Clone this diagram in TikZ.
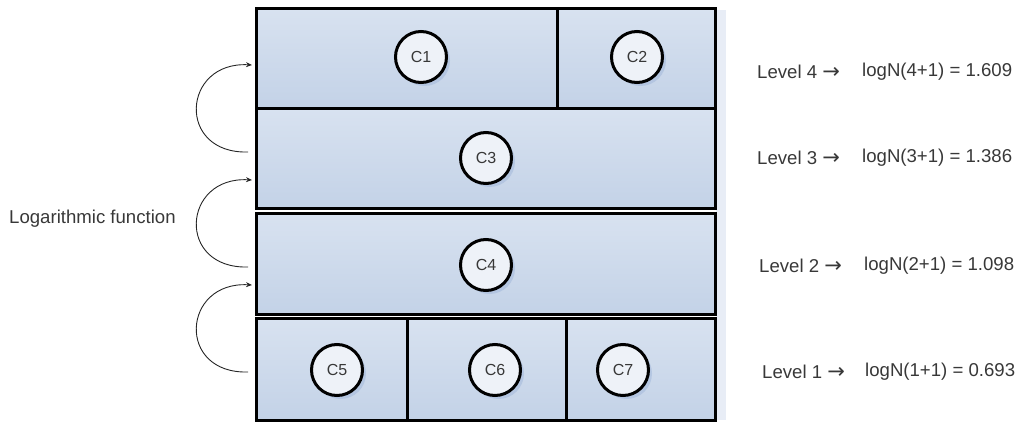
\documentclass[tikz,border=0pt]{standalone}
\usepackage{fontspec}
\setmainfont{Liberation Sans}
\newfontfamily\arrfont{DejaVu Sans}
\usetikzlibrary{arrows.meta,shadows}
\definecolor{boxA}{HTML}{D8E2F0}
\definecolor{boxB}{HTML}{C3D2E7}
\definecolor{circfill}{HTML}{EEF2F8}
\definecolor{shadowc}{HTML}{A6BBDC}
\definecolor{txt}{HTML}{383838}
\definecolor{edgeshade}{HTML}{E8EDF6}
\begin{document}
\begin{tikzpicture}[x=1pt,y=-1pt,
  cell/.style={draw=black, line width=3pt, top color=boxA, bottom color=boxB,
    rectangle, inner sep=0pt, outer sep=0pt},
  circ/.style={circle, draw=black, line width=3pt, fill=circfill, minimum size=51pt,
    inner sep=0pt, text=txt, font=\fontsize{16}{18}\selectfont,
    drop shadow={shadow xshift=3.5pt, shadow yshift=-3.5pt, fill=shadowc, opacity=0.6}},
  lbl/.style={anchor=west, inner sep=0pt, text=txt, font=\fontsize{18.6}{22}\selectfont},
  curv/.style={draw=black!85, line width=0.9pt, -{Stealth[length=6pt,width=5pt]}}
]
\useasboundingbox (0,0) rectangle (1021,423);
% faint right shade
\fill[edgeshade] (716,10) rectangle (726,420);
% level 4
\node[cell, minimum width=301pt, minimum height=100pt] (r4a) at (406.5,58) {};
\node[cell, minimum width=158pt, minimum height=100pt] (r4b) at (636,58) {};
% level 3
\node[cell, minimum width=459pt, minimum height=100pt] (r3) at (486,158.5) {};
% level 2
\node[cell, minimum width=459pt, minimum height=101pt] (r2) at (486,264) {};
% level 1
\node[cell, minimum width=151pt, minimum height=102pt] (r1a) at (332,369) {};
\node[cell, minimum width=159pt, minimum height=102pt] (r1b) at (486.5,369) {};
\node[cell, minimum width=149pt, minimum height=102pt] (r1c) at (640.5,369) {};
% circles
\node[circ] (c1) at (421,57) {C1};
\node[circ] (c2) at (637,57) {C2};
\node[circ] (c3) at (486,158) {C3};
\node[circ] (c4) at (486,265) {C4};
\node[circ] (c5) at (337,370) {C5};
\node[circ] (c6) at (495,370) {C6};
\node[circ] (c7) at (623,370) {C7};
% curved arrows
\coordinate (a1s) at (248,152);
\coordinate (a1e) at (252,65);
\coordinate (a2s) at (248,267);
\coordinate (a2e) at (252,180);
\coordinate (a3s) at (248,372);
\coordinate (a3e) at (252,285);
\draw[curv] (a1s) .. controls +(-72,2) and +(-70,-4) .. (a1e);
\draw[curv] (a2s) .. controls +(-72,2) and +(-70,-4) .. (a2e);
\draw[curv] (a3s) .. controls +(-72,2) and +(-70,-4) .. (a3e);
% left label
\node[lbl] (logf) at (9,219) {Logarithmic function};
% right labels
\node[lbl] (l4) at (757,72) {Level 4 {\arrfont\fontsize{21}{22}\selectfont →}};
\node[lbl] (f4) at (862,72) {logN(4+1) = 1.609};
\node[lbl] (l3) at (757,158) {Level 3 {\arrfont\fontsize{21}{22}\selectfont →}};
\node[lbl] (f3) at (862,158) {logN(3+1) = 1.386};
\node[lbl] (l2) at (759,266) {Level 2 {\arrfont\fontsize{21}{22}\selectfont →}};
\node[lbl] (f2) at (864,266) {logN(2+1) = 1.098};
\node[lbl] (l1) at (762,372) {Level 1 {\arrfont\fontsize{21}{22}\selectfont →}};
\node[lbl] (f1) at (865,372) {logN(1+1) = 0.693};
\end{tikzpicture}
\end{document}
